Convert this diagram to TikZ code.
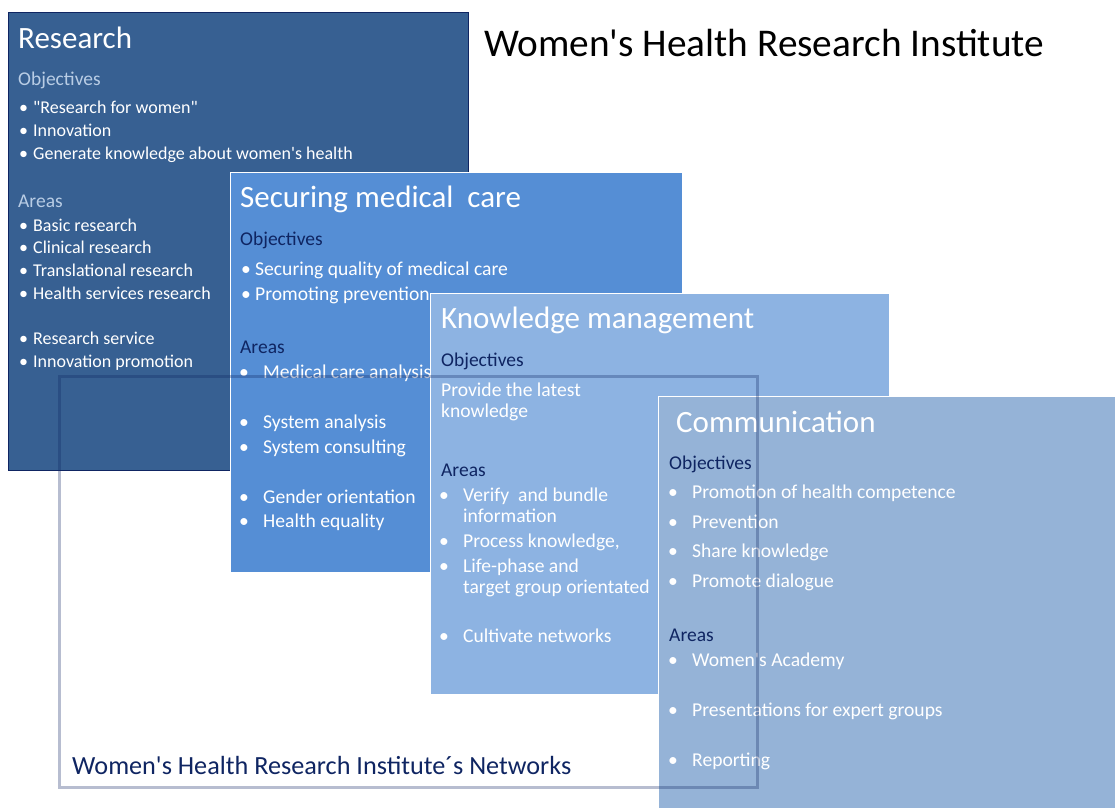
\documentclass[tikz,border=0pt]{standalone}
\usepackage{fontspec}
\setmainfont{Carlito}[Ligatures=TeXOff]
\usetikzlibrary{positioning}
\definecolor{resblue}{HTML}{376092}
\definecolor{medblue}{HTML}{558ED5}
\definecolor{knowblue}{HTML}{8DB3E2}
\definecolor{comblue}{HTML}{95B3D7}
\definecolor{navy}{HTML}{0F2562}
\definecolor{paleblue}{HTML}{B9CDE5}
\newcommand{\bul}[2][10pt]{\makebox[#1][l]{\hspace{-4pt}\textbullet}#2}

\begin{document}
\begin{tikzpicture}[
        x=1pt, y=-1pt,
        box/.style={rectangle, inner sep=0pt, anchor=north west},
        title/.style={anchor=base west, inner sep=0pt, text=white, font=\fontsize{31}{31}\selectfont},
        head/.style={anchor=base west, inner sep=0pt, text=navy, font=\fontsize{19.5}{19.5}\selectfont},
        item/.style={anchor=base west, inner sep=0pt, text=white, font=\fontsize{19.6}{19.6}\selectfont},
        smallitem/.style={item, font=\fontsize{18}{18}\selectfont},
        netframe/.style={rectangle, inner sep=0pt, anchor=north west, draw=navy, draw opacity=0.3, line width=3pt}
    ]
        \useasboundingbox (0,0) rectangle (1115,807);

        % Header
        \node[anchor=base west, inner sep=0pt, font=\fontsize{39.3}{39.3}\selectfont] (main) at (484,56) {Women's Health Research Institute};

        % Research
        \node[box, fill=resblue, draw=navy, line width=0.8pt, minimum width=460pt, minimum height=458pt] (resbox) at (8,12) {};
        \node[title] (rest) at (18,48) {Research};
        \node[head, text=paleblue] (reso) at (18,85) {Objectives};
        \foreach \i/\y/\w in {1/113/{"Research for women"}, 2/136/Innovation, 3/159/{Generate knowledge about women's health}} {
            \node[smallitem] (ro\i) at (23,\y) {\bul{\w}};
        }
        \node[head, text=paleblue] (resa) at (18,207) {Areas};
        \foreach \i/\y/\w in {1/231/Basic research, 2/253/Clinical research, 3/276/Translational research, 4/299/Health services research, 5/344/Research service, 6/367/Innovation promotion} {
            \node[smallitem] (ra\i) at (23,\y) {\bul{\w}};
        }

        % Securing medical care
        \node[box, fill=medblue, draw=white, line width=0.8pt, minimum width=452pt, minimum height=400pt] (medbox) at (230,172) {};
        \node[title] (medt) at (240,207) {Securing medical\ \ care};
        \node[head] (medo) at (240,245) {Objectives};
        \foreach \i/\y/\w in {1/275/Securing quality of medical care, 2/300/Promoting prevention} {
            \node[item] (mo\i) at (245,\y) {\bul{\w}};
        }
        \node[head] (meda) at (240,353) {Areas};
        \foreach \i/\y/\w in {1/378/Medical care analysis, 2/428/System analysis, 3/453/System consulting, 4/503/Gender orientation, 5/527/Health equality} {
            \node[item] (ma\i) at (243,\y) {\bul[20pt]{\w}};
        }

        % Knowledge management
        \node[box, fill=knowblue, draw=white, line width=0.8pt, minimum width=459pt, minimum height=401pt] (knowbox) at (430,293) {};
        \node[title] (knowt) at (441,328) {Knowledge management};
        \node[head] (knowo) at (441,366) {Objectives};
        \node[item] (ko1) at (441,396) {Provide the latest};
        \node[item] (ko2) at (441,417) {knowledge};
        \node[head] (knowa) at (441,476) {Areas};
        \foreach \i/\y/\w in {1/501/{Verify\ \ and bundle}, 2/547/{Process knowledge,}, 3/572/Life-phase and, 4/642/Cultivate networks} {
            \node[item] (ka\i) at (443,\y) {\bul[20pt]{\w}};
        }
        \node[item] (ka1b) at (463,522) {information};
        \node[item] (ka3b) at (463,593) {target group orientated};

        % Communication
        \node[box, fill=comblue, draw=white, line width=0.8pt, minimum width=458pt, minimum height=412pt] (combox) at (658,396) {};
        \node[title] (comt) at (676,432) {Communication};
        \node[head] (como) at (669,469) {Objectives};
        \foreach \i/\y/\w in {1/498/Promotion of health competence, 2/528/Prevention, 3/557/Share knowledge, 4/587/Promote dialogue} {
            \node[item] (co\i) at (672,\y) {\bul[20pt]{\w}};
        }
        \node[head] (coma) at (669,641) {Areas};
        \foreach \i/\y/\w in {1/666/Women's Academy, 2/716/Presentations for expert groups, 3/766/Reporting} {
            \node[item] (ca\i) at (672,\y) {\bul[20pt]{\w}};
        }

        % Networks
        \node[netframe, minimum width=698pt, minimum height=411pt] (netbox) at (58,375) {};
        \node[anchor=base west, inner sep=0pt, text=navy, font=\fontsize{26.2}{26.2}\selectfont] (nett) at (72,774) {Women's Health Research Institute´s Networks};
    \end{tikzpicture}
\end{document}
